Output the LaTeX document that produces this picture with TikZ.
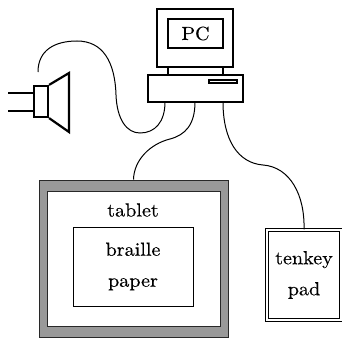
\documentclass[tikz,border=0pt]{standalone}
\usepackage{fontspec}
\setmainfont{lmroman10-regular.otf}[FakeStretch=1.06, FakeBold=0.3]
\definecolor{framegray}{RGB}{153,153,153}
\definecolor{edge}{RGB}{40,40,40}
\begin{document}
\begin{tikzpicture}[x=1pt,y=-1pt,
  box/.style={draw, line width=1.3pt, inner sep=0pt, outer sep=0pt, fill=white},
  cable/.style={line width=1pt},
  txt/.style={font=\fontsize{19}{31}\selectfont, align=center},
  horn/.style={line width=2.2pt, line join=miter}]
\useasboundingbox (0,0) rectangle (342,337);

% --- PC: monitor, screen, stand and base unit
\node[box, minimum width=76, minimum height=58] (monitor) at (195,38) {};
\node[box, txt, minimum width=55, minimum height=29] (screen) at (195.5,33.5) {PC};
\node[box, minimum width=95, minimum height=27] (base) at (195.5,88.5) {};
\node[box, line width=1.1pt, minimum width=28, minimum height=3] (slot) at (223,81.5) {};
\draw[line width=1.3pt] (monitor.south west -| screen.west) -- (base.north west -| screen.west);
\draw[line width=1.3pt] (monitor.south east -| screen.east) -- (base.north east -| screen.east);

% --- loudspeaker
\node[draw, horn, inner sep=0pt, minimum width=14, minimum height=31] (spk) at (41,101.5) {};
\draw[horn] (spk.north east) -- (69,73) -- (69,132) -- (spk.south east);
\draw[horn] (8,93) -- (spk.west |- 0,93);
\draw[horn] (8,111) -- (spk.west |- 0,111);
\coordinate (spkwire) at (38,72);

% --- tablet with braille paper
\node[draw=edge, line width=1pt, fill=framegray, minimum width=189, minimum height=157, inner sep=0pt] (tablet) at (133.5,258.5) {};
\node[draw=edge, line width=1pt, fill=white, minimum width=173, minimum height=135, inner sep=0pt] (tabletin) at (133.5,258.5) {};
\node[txt] (tablettxt) at (133,210) {tablet};
\node[draw, line width=1pt, fill=white, txt, minimum width=120, minimum height=79, inner sep=0pt] (paper) at (133,266.5) {braille\\paper};

% --- tenkey pad
\node[draw, line width=1.1pt, double, double distance=2.6pt, txt, minimum width=74, minimum height=90, inner sep=0pt] (tenkey) at (304,275) {tenkey\\pad};

% --- cables
\draw[cable] (spkwire) .. controls (38,50) and (55,41) .. (77,41)
  .. controls (103,41) and (115,62) .. (116,95)
  .. controls (117,120) and (127,133) .. (140,133)
  .. controls (155,133) and (165,122) .. ([xshift=-30.5]base.south);
\draw[cable] ([xshift=-0.5]base.south) .. controls (195,125) and (185,135) .. (170,139)
  .. controls (150,144) and (134,160) .. (tablet.north);
\draw[cable] ([xshift=27.5]base.south) .. controls (223,140) and (238,163) .. (263,165)
  .. controls (290,167) and (305,195) .. (tenkey.north);
\end{tikzpicture}
\end{document}
